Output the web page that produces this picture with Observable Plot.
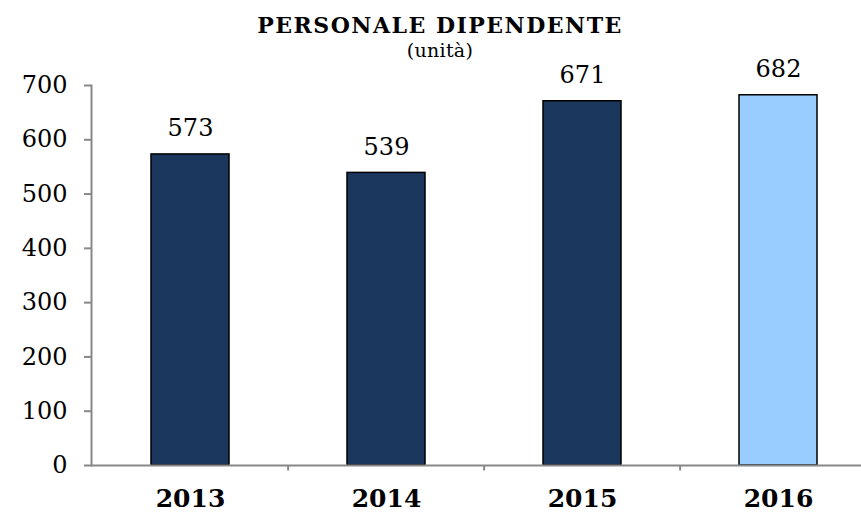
<!DOCTYPE html>
<html>
<head>
<meta charset="utf-8">
<script src="https://cdn.jsdelivr.net/npm/d3@7"></script>
<script src="https://cdn.jsdelivr.net/npm/@observablehq/plot@0.6"></script>
<style>
  html, body { margin: 0; padding: 0; background: #fff; overflow: hidden; }
  #wrap { width: 861px; height: 513px; position: relative; }
  #title { position: absolute; top: 12px; left: 0; width: 880px; text-align: center;
    font-family: "DejaVu Serif", serif; font-weight: bold; font-size: 22px; line-height: 26px; letter-spacing: 1.5px; color: #000; }
  #subtitle { position: absolute; top: 39px; left: 0; width: 880px; text-align: center;
    font-family: "DejaVu Serif", serif; font-size: 19px; line-height: 22px; letter-spacing: 0.3px; color: #000; }
  #chart { position: absolute; top: 40px; left: 0; }
  #chart svg { overflow: visible; }
</style>
</head>
<body>
<div id="wrap">
  <div id="title">PERSONALE DIPENDENTE</div>
  <div id="subtitle">(unità)</div>
  <div id="chart"></div>
</div>
<script>
const years = ["2013", "2014", "2015", "2016"];
const values = [573, 539, 671, 682];
const barColors = ["#1b375d", "#1b375d", "#1b375d", "#99ccff"];
const yTicks = [0, 100, 200, 300, 400, 500, 600, 700];

const data = years.map((y, i) => ({year: y, value: values[i], color: barColors[i]}));

const xRange = [91, 878];
const step = (xRange[1] - xRange[0]) / years.length;

const plot = Plot.plot({
  width: 861,
  height: 473,
  marginTop: 45,
  marginBottom: 48,
  marginLeft: 91,
  marginRight: 0,
  style: {fontFamily: "DejaVu Serif, serif", background: "transparent", overflow: "visible"},
  x: {domain: years, range: xRange, paddingInner: 0.6, paddingOuter: 0.3, align: 0.5},
  y: {domain: [0, 700], ticks: yTicks},
  marks: [
    Plot.barY(data, {x: "year", y: "value", fill: "color", stroke: "#000", strokeWidth: 1.5}),
    Plot.text(data, {x: "year", y: "value", text: d => String(d.value), dy: -18, lineAnchor: "bottom", fontSize: 24, fill: "#000"}),
    Plot.ruleY([0], {stroke: "#888", strokeWidth: 2}),
    Plot.ruleX(years.slice(1), {x: d => d, y1: 0, y2: -10, stroke: "#888", strokeWidth: 2, dx: -step / 2}),
    Plot.frame({anchor: "left", stroke: "#888", strokeWidth: 2}),
    Plot.axisY({ticks: yTicks, tickSize: 7, tickPadding: 17, fontSize: 24, stroke: "#888", strokeWidth: 2, label: null, tickFormat: d => String(d), color: "#000"}),
    Plot.axisX({tickSize: 0, tickPadding: 24, fontSize: 25, fontWeight: "bold", label: null, color: "#000"})
  ]
});
document.getElementById("chart").appendChild(plot);
</script>
</body>
</html>
